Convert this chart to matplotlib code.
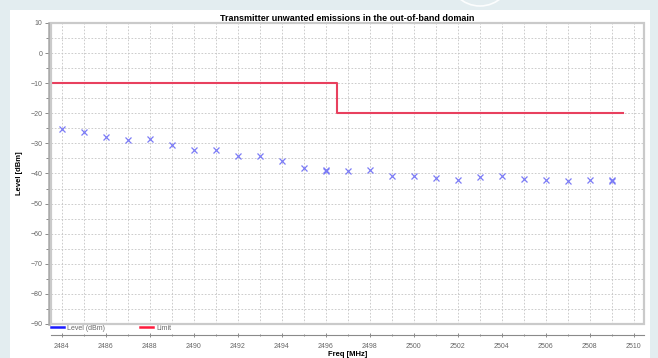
import matplotlib
matplotlib.use("Agg")
import matplotlib.pyplot as plt
from matplotlib.lines import Line2D
from matplotlib.patches import Rectangle, Circle
from matplotlib.ticker import MultipleLocator
from matplotlib.transforms import IdentityTransform

# measured emission levels per frequency (two readings at 2496 and 2509)
freq_mhz = [2484, 2485, 2486, 2487, 2488, 2489, 2490, 2491, 2492, 2493,
            2494, 2495, 2496, 2496, 2497, 2498, 2499, 2500, 2501, 2502,
            2503, 2504, 2505, 2506, 2507, 2508, 2509, 2509]
level_dbm = [-25.1, -26.2, -27.9, -28.9, -28.7, -30.6, -32.2, -32.1, -34.1, -34.3,
             -35.7, -38.2, -38.9, -39.3, -39.2, -39.0, -40.8, -40.7, -41.4, -42.0,
             -41.0, -40.7, -41.8, -42.1, -42.6, -42.1, -42.0, -42.5]

# out-of-band limit mask
limit_freq = [2483.5, 2496.5, 2496.5, 2509.5]
limit_dbm = [-10, -10, -20, -20]

plt.rcParams['font.family'] = ['Liberation Sans', 'DejaVu Sans']

W, H = 658, 358
fig = plt.figure(figsize=(W / 100, H / 100), dpi=100)
fig.patch.set_facecolor('#e3edf0')

# faint round logo in the top band and the white page behind the chart
fig.patches.append(Circle((480, H + 26), 32, transform=IdentityTransform(),
                          fill=False, edgecolor='white', lw=1.2, alpha=0.9,
                          zorder=-3))
fig.patches.append(Rectangle((10 / W, 0), 640 / W, 348 / H, transform=fig.transFigure,
                             facecolor='white', edgecolor='none', zorder=-2))

ax = fig.add_axes([50.7 / W, 34 / H, 593 / W, 301 / H])
ax.set_facecolor('white')

ax.plot(limit_freq, limit_dbm, color='#e8405e', lw=1.5, zorder=3)
ax.plot(freq_mhz, level_dbm, linestyle='none', marker='x', color='#7c7cf6',
        markersize=4.5, markeredgewidth=0.9, zorder=4)

ax.set_xlim(2483.5, 2510.45)
ax.set_ylim(-90, 10)

ax.xaxis.set_major_locator(MultipleLocator(2))
ax.xaxis.set_minor_locator(MultipleLocator(1))
ax.yaxis.set_major_locator(MultipleLocator(10))
ax.yaxis.set_minor_locator(MultipleLocator(5))

ax.grid(which='both', color='#c4c4c4', linestyle=(0, (2, 2)), lw=0.6)
ax.set_axisbelow(True)

# plot frame
ax.add_patch(Rectangle((0, 0), 1, 1, transform=ax.transAxes, fill=False,
                       edgecolor='#cacaca', lw=1.6, clip_on=False, zorder=5))

for side in ('top', 'right'):
    ax.spines[side].set_visible(False)
ax.spines['left'].set_position(('outward', 1.5))
ax.spines['left'].set_color('#a8a8a8')
ax.spines['left'].set_linewidth(1.8)
ax.spines['bottom'].set_position(('outward', 8))
ax.spines['bottom'].set_color('#8a8a8a')
ax.spines['bottom'].set_linewidth(0.8)

ax.tick_params(axis='y', which='major', labelsize=5, labelcolor='#666666',
               color='#777777', length=3, width=0.6, pad=1.5)
ax.tick_params(axis='y', which='minor', color='#777777', length=2, width=0.6)
ax.tick_params(axis='x', which='major', labelsize=5, labelcolor='#666666',
               color='#777777', length=3, width=0.6, direction='inout', pad=4)
ax.tick_params(axis='x', which='minor', color='#777777', length=2, width=0.6,
               direction='inout')

ax.set_title('Transmitter unwanted emissions in the out-of-band domain',
             fontsize=6.5, fontweight='bold', pad=1.5)
ax.set_xlabel('Freq [MHz]', fontsize=5.5, fontweight='bold', labelpad=1)
ax.set_ylabel('Level [dBm]', fontsize=5.5, fontweight='bold', labelpad=5)

handles = [Line2D([], [], color='#1a1aff', lw=1.8),
           Line2D([], [], color='#ff1a3c', lw=1.8)]
ax.legend(handles, ['Level (dBm)', 'Limit'], loc='upper left',
          bbox_to_anchor=(0.0, 0.0), ncol=2, frameon=False, fontsize=5,
          handlelength=1.8, handletextpad=0.5, columnspacing=5.0,
          borderaxespad=0, borderpad=0.1, labelcolor='#666666')

fig.savefig('out.png', dpi=100, facecolor=fig.get_facecolor())
